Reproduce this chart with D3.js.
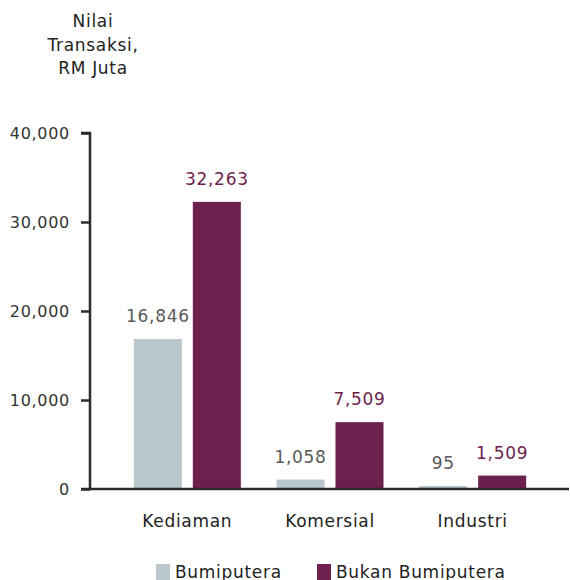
<!DOCTYPE html>
<html>
<head>
<meta charset="utf-8">
<script src="https://cdn.jsdelivr.net/npm/d3@7"></script>
<style>
  body { margin: 0; background: #fff; }
  text { font-family: "DejaVu Sans", sans-serif; letter-spacing: 0.7px; }
</style>
</head>
<body>
<script>
// data
const categories = ["Kediaman", "Komersial", "Industri"];
const seriesNames = ["Bumiputera", "Bukan Bumiputera"];
const bumiputera = [16846, 1058, 95];
const bukanBumiputera = [32263, 7509, 1509];
const yTicks = [0, 10000, 20000, 30000, 40000];
const titleLines = ["Nilai", "Transaksi,", "RM Juta"];

const barColors = ["#b9c7cc", "#6d1f4d"];
const labelColors = ["#5a5a5a", "#6d1f4d"];

const width = 570, height = 580;
const plot = {left: 90, right: 570, top: 133, bottom: 489};

const svg = d3.select("body").append("svg")
  .attr("width", width)
  .attr("height", height);

const rows = categories.map((c, i) => ({
  category: c,
  values: [bumiputera[i], bukanBumiputera[i]]
}));

const y = d3.scaleLinear()
  .domain([0, 40000])
  .range([plot.bottom, plot.top]);

const x0 = d3.scaleBand()
  .domain(categories)
  .range([116, 544])
  .padding(0);

const x1 = d3.scaleBand()
  .domain(d3.range(seriesNames.length))
  .range([0, 107])
  .paddingInner(0.186)
  .paddingOuter(0);

// title
svg.append("text")
  .attr("text-anchor", "middle")
  .attr("fill", "#222")
  .style("font-size", "17px")
  .selectAll("tspan")
  .data(titleLines)
  .join("tspan")
    .attr("x", 93)
    .attr("y", (d, i) => 27 + i * 23.5)
    .text(d => d);

// y axis
const yAxis = svg.append("g")
  .attr("transform", `translate(${plot.left},0)`)
  .call(d3.axisLeft(y).tickValues(yTicks).tickSize(9).tickPadding(11)
    .tickFormat(d3.format(",")));
yAxis.select(".domain").attr("stroke", "#2b2b2b").attr("stroke-width", 2.5)
  .attr("d", `M-9,${plot.top}H0V${plot.bottom}`);
yAxis.selectAll(".tick line").attr("stroke", "#2b2b2b").attr("stroke-width", 2.5);
yAxis.selectAll(".tick text")
  .attr("fill", "#333")
  .style("font-size", "16px")
  .style("font-family", "'DejaVu Sans', sans-serif");

// bars (tiny values kept visible at a few pixels, as in the reference)
const groups = svg.append("g").selectAll("g")
  .data(rows)
  .join("g")
    .attr("transform", d => `translate(${x0(d.category) + (x0.bandwidth() - 107) / 2},0)`);

groups.selectAll("rect")
  .data(d => d.values.map((v, j) => ({v, j})))
  .join("rect")
    .attr("x", d => x1(d.j))
    .attr("y", d => Math.min(y(d.v), y(0) - 3))
    .attr("width", x1.bandwidth())
    .attr("height", d => Math.max(y(0) - y(d.v), 3))
    .attr("fill", d => barColors[d.j]);

groups.selectAll("text.val")
  .data(d => d.values.map((v, j) => ({v, j})))
  .join("text")
    .attr("class", "val")
    .attr("x", d => x1(d.j) + x1.bandwidth() / 2)
    .attr("y", d => Math.min(y(d.v), y(0) - 3) - 17)
    .attr("text-anchor", "middle")
    .attr("fill", d => labelColors[d.j])
    .style("font-size", "17px")
    .text(d => d3.format(",")(d.v));

// baseline
svg.append("line")
  .attr("x1", plot.left - 9).attr("x2", 569)
  .attr("y1", y(0)).attr("y2", y(0))
  .attr("stroke", "#2b2b2b").attr("stroke-width", 2.5);

// category labels
svg.append("g").selectAll("text")
  .data(categories)
  .join("text")
    .attr("x", d => x0(d) + x0.bandwidth() / 2)
    .attr("y", 527)
    .attr("text-anchor", "middle")
    .attr("fill", "#222")
    .style("font-size", "17px")
    .text(d => d);

// legend
const legendX = [156, 317];
const legend = svg.append("g").selectAll("g")
  .data(seriesNames)
  .join("g")
    .attr("transform", (d, i) => `translate(${legendX[i]},564)`);
legend.append("rect")
  .attr("width", 14).attr("height", 16)
  .attr("fill", (d, i) => barColors[i]);
legend.append("text")
  .attr("x", 19).attr("y", 13.5)
  .attr("fill", "#222")
  .style("font-size", "17px")
  .text(d => d);
</script>
</body>
</html>
